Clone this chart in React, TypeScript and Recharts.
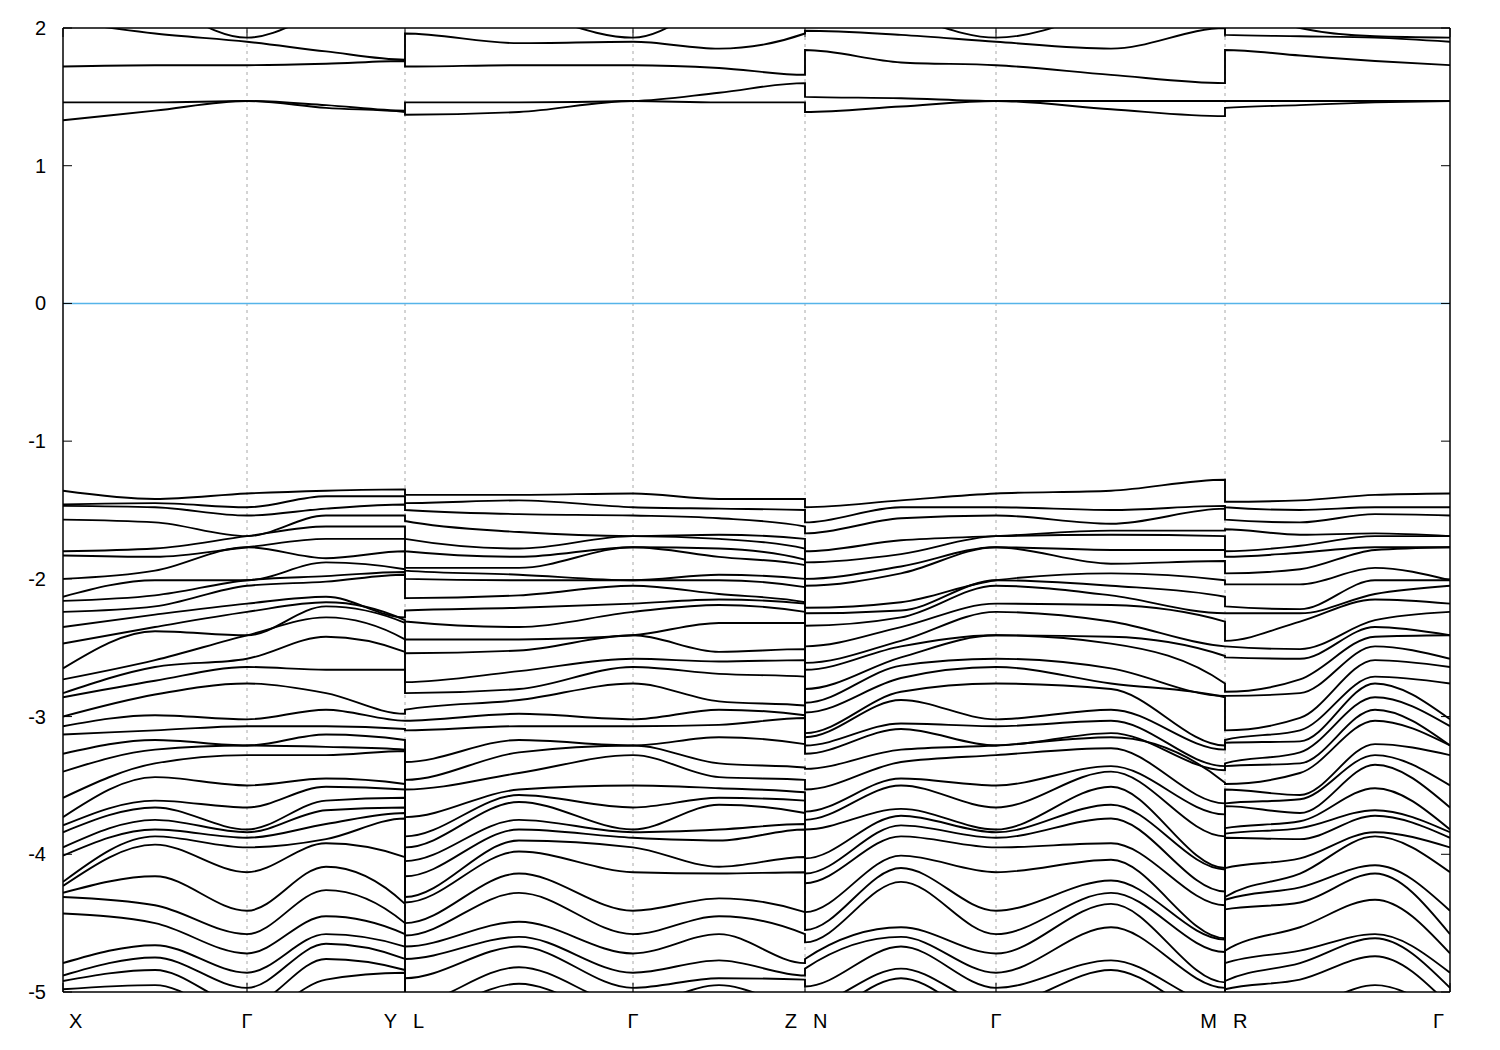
import { LineChart, Line, XAxis, YAxis, ReferenceLine } from 'recharts'

// k-path positions (path length, arbitrary units) and their labels
const kTicks = [0, 184, 342, 570, 742, 933, 1162, 1387]
const kLabels = ['X', 'Γ', 'Y L', 'Γ', 'Z N', 'Γ', 'M R', 'Γ']
const energyTicks = [2, 1, 0, -1, -2, -3, -4, -5]

// sampled columns along the path; leg boundaries appear twice (end of one leg, start of the next)
const columnK = [0, 92, 184, 263, 342, 342, 456, 570, 656, 742, 742, 838, 933, 1048, 1162, 1162, 1237, 1312, 1387]

// valence bands read at each column (eV), values below -5 leave the frame
const valX = [-1.36, -1.46, -1.47, -1.57, -1.8, -1.83, -2.0, -2.13, -2.16, -2.24, -2.35, -2.47, -2.65, -2.73, -2.83, -2.86, -3.0, -3.07, -3.13, -3.27, -3.4, -3.59, -3.73, -3.79, -3.84, -3.95, -4.01, -4.2, -4.23, -4.28, -4.31, -4.43, -4.79, -4.88, -4.92, -4.98]
const valXG = [-1.42, -1.45, -1.48, -1.59, -1.78, -1.84, -1.94, -2.01, -2.12, -2.2, -2.26, -2.35, -2.38, -2.59, -2.64, -2.74, -2.84, -2.99, -3.1, -3.17, -3.24, -3.34, -3.44, -3.61, -3.66, -3.75, -3.82, -3.87, -3.93, -4.16, -4.37, -4.5, -4.66, -4.75, -4.84, -4.95]
const valG = [-1.38, -1.48, -1.54, -1.69, -1.69, -1.77, -1.77, -2.01, -2.01, -2.05, -2.18, -2.24, -2.41, -2.41, -2.58, -2.64, -2.76, -3.02, -3.07, -3.21, -3.21, -3.28, -3.5, -3.66, -3.82, -3.84, -3.88, -3.95, -4.13, -4.41, -4.58, -4.72, -4.86, -4.97, -5.1, -5.2]
const valGY = [-1.36, -1.4, -1.49, -1.54, -1.62, -1.71, -1.85, -1.88, -1.98, -2.02, -2.13, -2.17, -2.2, -2.28, -2.42, -2.66, -2.83, -2.95, -3.07, -3.13, -3.22, -3.28, -3.45, -3.51, -3.61, -3.68, -3.78, -3.89, -3.92, -4.09, -4.26, -4.45, -4.58, -4.65, -4.76, -4.91]
const valY = [-1.35, -1.4, -1.46, -1.54, -1.62, -1.71, -1.8, -1.93, -1.95, -1.97, -2.28, -2.3, -2.32, -2.44, -2.53, -2.66, -2.98, -3.03, -3.09, -3.17, -3.24, -3.25, -3.49, -3.53, -3.59, -3.66, -3.7, -3.74, -4.02, -4.36, -4.5, -4.58, -4.67, -4.76, -4.84, -4.86]
const valL = [-1.39, -1.45, -1.5, -1.58, -1.71, -1.8, -1.92, -1.94, -2.0, -2.14, -2.23, -2.31, -2.44, -2.54, -2.75, -2.83, -2.95, -3.03, -3.1, -3.33, -3.46, -3.53, -3.73, -3.87, -3.95, -4.05, -4.16, -4.31, -4.35, -4.5, -4.59, -4.67, -4.76, -4.9, -5.1, -5.2]
const valLG = [-1.39, -1.43, -1.53, -1.66, -1.78, -1.84, -1.92, -1.97, -2.01, -2.12, -2.21, -2.35, -2.44, -2.52, -2.67, -2.8, -2.88, -2.98, -3.07, -3.17, -3.26, -3.41, -3.53, -3.57, -3.62, -3.75, -3.82, -3.9, -3.98, -4.14, -4.28, -4.49, -4.6, -4.67, -4.82, -4.94]
const valGZ = [-1.42, -1.49, -1.56, -1.68, -1.71, -1.78, -1.84, -1.97, -2.01, -2.11, -2.15, -2.19, -2.32, -2.53, -2.6, -2.69, -2.89, -2.95, -3.06, -3.15, -3.34, -3.44, -3.52, -3.59, -3.64, -3.82, -3.9, -4.09, -4.14, -4.32, -4.45, -4.58, -4.77, -4.9, -4.95, -5.1]
const valZ = [-1.42, -1.5, -1.62, -1.71, -1.78, -1.86, -1.9, -2.0, -2.06, -2.17, -2.18, -2.24, -2.32, -2.51, -2.59, -2.71, -2.92, -2.99, -3.01, -3.2, -3.37, -3.46, -3.55, -3.61, -3.7, -3.78, -3.82, -4.02, -4.13, -4.42, -4.58, -4.79, -4.88, -4.91, -5.1, -5.2]
const valN = [-1.48, -1.59, -1.67, -1.8, -1.88, -2.0, -2.05, -2.21, -2.25, -2.34, -2.49, -2.61, -2.66, -2.8, -2.9, -2.97, -3.12, -3.15, -3.21, -3.27, -3.38, -3.53, -3.69, -3.75, -3.82, -4.03, -4.14, -4.21, -4.42, -4.55, -4.64, -4.76, -4.83, -4.96, -5.1, -5.2]
const valNG = [-1.43, -1.48, -1.56, -1.72, -1.82, -1.91, -1.96, -2.17, -2.23, -2.28, -2.35, -2.45, -2.49, -2.57, -2.63, -2.72, -2.82, -2.88, -3.05, -3.09, -3.24, -3.33, -3.45, -3.5, -3.67, -3.72, -3.79, -3.87, -4.01, -4.1, -4.2, -4.53, -4.6, -4.67, -4.83, -4.9]
const valGM = [-1.36, -1.5, -1.6, -1.65, -1.68, -1.79, -1.89, -1.96, -2.05, -2.12, -2.19, -2.31, -2.42, -2.47, -2.65, -2.76, -2.8, -2.95, -3.03, -3.12, -3.15, -3.23, -3.36, -3.4, -3.51, -3.64, -3.74, -3.92, -4.04, -4.19, -4.28, -4.36, -4.53, -4.77, -4.84, -5.1]
const valM = [-1.28, -1.47, -1.49, -1.65, -1.69, -1.79, -1.87, -2.01, -2.13, -2.25, -2.31, -2.49, -2.56, -2.76, -2.85, -2.86, -3.21, -3.24, -3.36, -3.39, -3.48, -3.63, -3.71, -3.87, -4.1, -4.11, -4.27, -4.37, -4.61, -4.62, -4.71, -4.93, -4.97, -5.1, -5.2, -5.3]
const valR = [-1.44, -1.48, -1.57, -1.64, -1.8, -1.84, -1.96, -2.04, -2.2, -2.25, -2.45, -2.49, -2.57, -2.82, -2.85, -3.1, -3.17, -3.19, -3.34, -3.36, -3.49, -3.53, -3.63, -3.65, -3.81, -3.85, -3.88, -4.1, -4.31, -4.33, -4.4, -4.7, -4.79, -4.92, -4.98, -5.1]
const valRG1 = [-1.43, -1.5, -1.59, -1.68, -1.76, -1.81, -1.93, -2.04, -2.22, -2.25, -2.31, -2.51, -2.58, -2.73, -2.83, -3.01, -3.1, -3.18, -3.26, -3.34, -3.41, -3.57, -3.6, -3.7, -3.76, -3.81, -3.89, -4.03, -4.14, -4.24, -4.35, -4.53, -4.7, -4.79, -4.91, -5.1]
const valRG2 = [-1.39, -1.48, -1.53, -1.67, -1.69, -1.77, -1.79, -1.92, -2.01, -2.11, -2.15, -2.3, -2.35, -2.42, -2.49, -2.59, -2.71, -2.76, -2.86, -2.95, -3.03, -3.2, -3.28, -3.35, -3.52, -3.68, -3.72, -3.84, -3.87, -4.08, -4.14, -4.33, -4.58, -4.61, -4.74, -4.95]

// conduction bands (eV)
const conX = [1.33, 1.46, 1.72, 2.05, 2.5]
const conXG = [1.4, 1.46, 1.73, 1.96, 2.2]
const conG = [1.47, 1.47, 1.73, 1.9, 1.93]
const conGY = [1.42, 1.44, 1.74, 1.83, 2.12]
const conY = [1.39, 1.4, 1.76, 1.77, 2.3]
const conL = [1.37, 1.46, 1.72, 1.96, 2.3]
const conLG = [1.39, 1.46, 1.73, 1.89, 2.13]
const conGZ = [1.46, 1.53, 1.71, 1.85, 2.2]
const conZ = [1.46, 1.6, 1.66, 1.96, 2.4]
const conN = [1.39, 1.5, 1.84, 1.98, 2.3]
const conNG = [1.43, 1.49, 1.75, 1.95, 2.1]
const conGM = [1.41, 1.47, 1.66, 1.85, 2.15]
const conM = [1.36, 1.47, 1.6, 2.0, 2.5]
const conR = [1.42, 1.47, 1.84, 1.95, 2.3]
const conRG1 = [1.44, 1.47, 1.8, 1.94, 2.0]
const conRG2 = [1.46, 1.47, 1.76, 1.93, 1.94]

const valenceColumns = [valX, valXG, valG, valGY, valY, valL, valLG, valG, valGZ, valZ, valN, valNG, valG, valGM, valM, valR, valRG1, valRG2, valG]
const conductionColumns = [conX, conXG, conG, conGY, conY, conL, conLG, conG, conGZ, conZ, conN, conNG, conG, conGM, conM, conR, conRG1, conRG2, conG]

const VAL_COUNT = valX.length
const CON_COUNT = conX.length

const rows = columnK.map((k, i) => {
  const row: Record<string, number> = { k }
  const v = [...valenceColumns[i]].sort((a, b) => b - a)
  const c = [...conductionColumns[i]].sort((a, b) => a - b)
  v.forEach((e, b) => { row['v' + b] = e })
  c.forEach((e, b) => { row['c' + b] = e })
  return row
})

const bandKeys = [
  ...Array.from({ length: VAL_COUNT }, (_, i) => 'v' + i),
  ...Array.from({ length: CON_COUNT }, (_, i) => 'c' + i),
]

const FONT = '"Liberation Sans", Arial, sans-serif'
const X_MAX = 1387
const TICK_LEN_E = 9 / 137.7

function EnergyTick({ x, y, payload }: any) {
  return (
    <text x={x - 17} y={y} dy={7} textAnchor="end" fontSize={20} fontFamily={FONT} fill="#000">
      {payload.value}
    </text>
  )
}

function KTick({ x, y, payload, index }: any) {
  const label = kLabels[index] ?? ''
  const parts = label.split(' ')
  if (parts.length === 2) {
    return (
      <g>
        <text x={x - 8} y={y + 36} textAnchor="end" fontSize={20} fontFamily={FONT} fill="#000">{parts[0]}</text>
        <text x={x + 8} y={y + 36} textAnchor="start" fontSize={20} fontFamily={FONT} fill="#000">{parts[1]}</text>
      </g>
    )
  }
  const anchor = payload.value === 0 ? 'start' : payload.value === X_MAX ? 'end' : 'middle'
  const dx = payload.value === 0 ? 6 : payload.value === X_MAX ? -6 : 0
  return (
    <text x={x + dx} y={y + 36} textAnchor={anchor} fontSize={20} fontFamily={FONT} fill="#000">{label}</text>
  )
}

export default function App() {
  return (
    <div style={{ width: 1500, height: 1050, background: '#fff' }}>
      <style>{'body{margin:0}'}</style>
      <LineChart width={1500} height={1050} data={rows} margin={{ top: 28, right: 50, bottom: 28, left: 8 }}>
        <XAxis
          dataKey="k"
          type="number"
          domain={[0, X_MAX]}
          ticks={kTicks}
          allowDataOverflow
          axisLine={false}
          tickLine={false}
          tickSize={0}
          tickMargin={0}
          height={30}
          interval={0}
          tick={<KTick />}
        />
        <YAxis
          type="number"
          domain={[-5, 2]}
          ticks={energyTicks}
          allowDataOverflow
          axisLine={false}
          tickLine={false}
          tickSize={0}
          tickMargin={0}
          width={55}
          interval={0}
          tick={<EnergyTick />}
        />
        {kTicks.slice(1, -1).map((k) => (
          <ReferenceLine key={'g' + k} x={k} stroke="#a8a8a8" strokeWidth={1} strokeDasharray="3 4" />
        ))}
        <ReferenceLine y={0} stroke="#56b4e9" strokeWidth={1.5} />
        {bandKeys.map((key) => (
          <Line
            key={key}
            dataKey={key}
            type="monotone"
            stroke="#000"
            strokeWidth={1.9}
            dot={false}
            activeDot={false}
            isAnimationActive={false}
          />
        ))}
        {energyTicks.map((t) => (
          <ReferenceLine key={'yl' + t} segment={[{ x: 0, y: t }, { x: 9, y: t }]} stroke="#000" strokeWidth={1} />
        ))}
        {energyTicks.map((t) => (
          <ReferenceLine key={'yr' + t} segment={[{ x: X_MAX - 9, y: t }, { x: X_MAX, y: t }]} stroke="#000" strokeWidth={1} />
        ))}
        {kTicks.map((k) => (
          <ReferenceLine key={'xb' + k} segment={[{ x: k, y: -5 }, { x: k, y: -5 + TICK_LEN_E }]} stroke="#000" strokeWidth={1} />
        ))}
        {kTicks.map((k) => (
          <ReferenceLine key={'xt' + k} segment={[{ x: k, y: 2 - TICK_LEN_E }, { x: k, y: 2 }]} stroke="#000" strokeWidth={1} />
        ))}
        <ReferenceLine x={0} stroke="#000" strokeWidth={1.5} />
        <ReferenceLine x={X_MAX} stroke="#000" strokeWidth={1.5} />
        <ReferenceLine y={2} stroke="#000" strokeWidth={1.5} />
        <ReferenceLine y={-5} stroke="#000" strokeWidth={1.5} />
      </LineChart>
    </div>
  )
}
